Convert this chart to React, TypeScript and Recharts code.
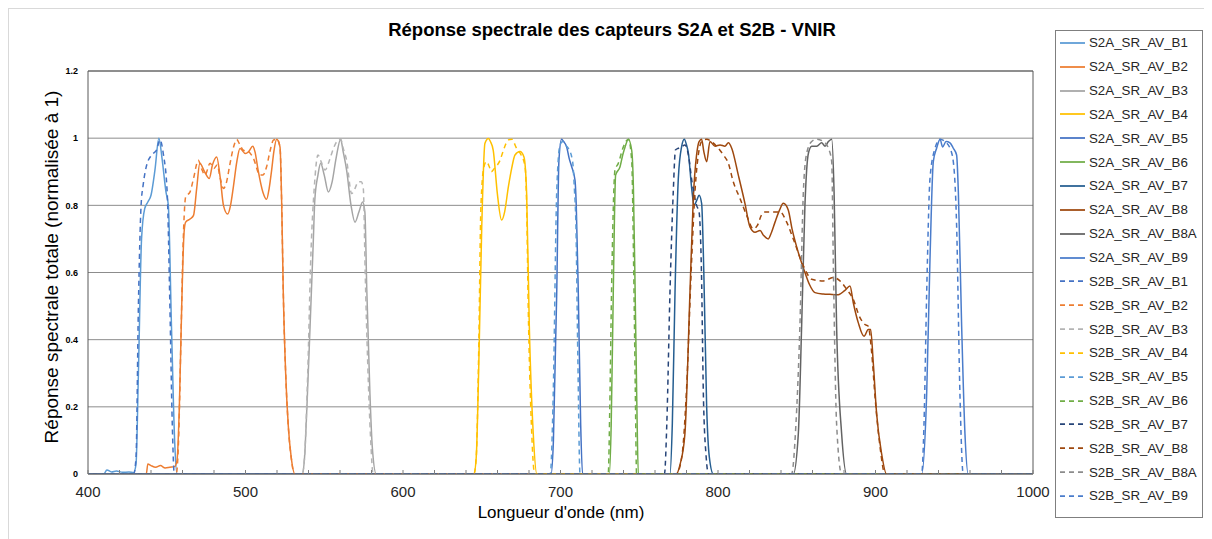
import React from 'react'
import { LineChart, Line, XAxis, YAxis, CartesianGrid, ReferenceLine } from 'recharts'

type Pt = [number, number]

// wavelength (nm), normalised response
const s2aB1: Pt[] = [[400,0],[410,0],[412,0.012],[415,0.006],[418,0.009],[422,0.005],[426,0.006],[429,0.004],[430.5,0.03],[432,0.3],[434,0.7],[436,0.79],[438,0.81],[440,0.83],[442.5,0.905],[445,1.0],[447,0.94],[449.5,0.84],[451,0.8],[453,0.44],[455,0.1],[456.5,0],[1000,0]]
const s2aB2: Pt[] = [[400,0],[437,0],[438,0.03],[440,0.025],[443,0.02],[446,0.025],[449,0.018],[452,0.02],[455,0.022],[456.5,0.04],[458,0.2],[459.5,0.5],[461,0.72],[462,0.75],[465,0.76],[467,0.77],[469,0.85],[471,0.925],[474,0.9],[477,0.88],[479,0.92],[481.7,0.944],[484,0.88],[486,0.8],[488.7,0.774],[490.5,0.8],[492.3,0.855],[494.5,0.93],[496.5,0.969],[500,0.954],[502,0.96],[504.6,0.976],[506,0.96],[508,0.905],[511,0.84],[513.4,0.818],[515,0.85],[516.6,0.905],[518,0.96],[519.8,0.997],[521.9,0.974],[523,0.8],[524,0.538],[525.5,0.3],[527.2,0.141],[529,0.05],[531.4,0],[1000,0]]
const s2aB3: Pt[] = [[400,0],[536,0],[537.5,0.05],[539,0.2],[541,0.44],[543,0.687],[544,0.815],[546,0.89],[547.7,0.925],[550,0.89],[552.6,0.84],[555,0.87],[557.5,0.94],[560.4,0.997],[562,0.96],[564.2,0.905],[567,0.8],[569.5,0.75],[572,0.78],[574.4,0.81],[575.8,0.78],[577,0.55],[579,0.24],[580.5,0.08],[583,0],[1000,0]]
const s2aB4: Pt[] = [[400,0],[645,0],[646.5,0.05],[648,0.3],[650,0.736],[652,0.984],[654.2,0.999],[655.5,0.99],[657.3,0.964],[659.9,0.835],[662.6,0.756],[664.5,0.78],[666.9,0.855],[669,0.91],[671.1,0.95],[674.3,0.96],[676.8,0.944],[678.5,0.835],[680.2,0.44],[682.7,0.12],[685,0],[1000,0]]
const s2aB5: Pt[] = [[400,0],[694,0],[695.5,0.1],[697.6,0.538],[699,0.934],[700.7,0.997],[702,0.99],[703.9,0.974],[705.5,0.94],[707.1,0.915],[709.2,0.875],[710,0.8],[711.3,0.538],[712.8,0.15],[714,0],[1000,0]]
const s2aB6: Pt[] = [[400,0],[731,0],[732.2,0.15],[733.5,0.54],[735,0.89],[737.8,0.915],[739.5,0.95],[741,0.974],[743.1,0.997],[745.2,0.964],[746.3,0.85],[747.4,0.54],[748.5,0.2],[749.4,0],[1000,0]]
const s2aB7: Pt[] = [[400,0],[769.5,0],[771,0.15],[772.7,0.54],[774.8,0.88],[776.9,0.975],[778.6,0.997],[780,0.98],[781.2,0.955],[783.3,0.85],[784.8,0.8],[786.5,0.815],[788,0.83],[789.6,0.806],[791,0.6],[792.8,0.2],[794.5,0.05],[797,0],[1000,0]]
const s2aB8: Pt[] = [[400,0],[773.5,0],[776,0.03],[779,0.12],[782.2,0.54],[784.3,0.82],[786.4,0.95],[788,0.99],[789.6,0.997],[791,0.96],[792.8,0.93],[794.9,0.99],[798.1,0.976],[801.3,0.98],[804.4,0.976],[806.6,0.986],[808.7,0.97],[812.9,0.89],[817.1,0.806],[820.3,0.736],[823.5,0.72],[826.7,0.725],[829,0.71],[831.9,0.7],[834,0.72],[836.2,0.75],[839,0.785],[841.5,0.806],[844.6,0.786],[847,0.73],[849.9,0.677],[855.2,0.6],[858,0.565],[861.6,0.54],[866.9,0.536],[871,0.535],[876.4,0.534],[880.6,0.547],[883.8,0.56],[885.9,0.51],[889.1,0.45],[892.7,0.41],[895.4,0.43],[896.9,0.43],[898.6,0.33],[900.7,0.18],[903.9,0.06],[907,0],[1000,0]]
const s2aB8A: Pt[] = [[400,0],[847.8,0],[851,0.12],[853.1,0.44],[855.2,0.8],[857.4,0.955],[859.5,0.976],[862.7,0.976],[865.8,0.986],[868,0.976],[870.1,0.99],[872.2,0.997],[873.7,0.84],[875.3,0.44],[878.5,0.12],[881.7,0],[1000,0]]
const s2aB9: Pt[] = [[400,0],[929.3,0],[932.5,0.24],[934.6,0.64],[936.7,0.93],[938.8,0.97],[941,0.997],[942.6,0.974],[944.8,0.99],[947.3,0.986],[949.4,0.97],[951.5,0.95],[952.6,0.84],[954.7,0.44],[956.8,0.12],[958.9,0],[1000,0]]

const s2bB1: Pt[] = [[400,0],[429,0],[430.5,0.05],[432,0.5],[433.7,0.8],[435,0.86],[437,0.915],[440.4,0.95],[443.6,0.965],[445.7,0.995],[447.8,0.954],[450.3,0.836],[452,0.5],[453.5,0.15],[454.8,0],[1000,0]]
const s2bB2: Pt[] = [[400,0],[456,0],[457.5,0.1],[459,0.4],[460.5,0.7],[462,0.825],[464.8,0.84],[467,0.88],[470,0.934],[472,0.91],[474.3,0.89],[477.5,0.925],[480,0.91],[482,0.92],[484,0.88],[486,0.85],[488,0.87],[490,0.92],[492.5,0.975],[494.4,0.996],[496.5,0.98],[498.6,0.964],[501.8,0.96],[505,0.94],[509.2,0.89],[511,0.89],[513.4,0.915],[515.5,0.96],[517.7,0.994],[520,0.997],[521.9,0.974],[523,0.8],[524,0.54],[525.5,0.3],[527.2,0.14],[529,0.05],[531,0],[1000,0]]
const s2bB3: Pt[] = [[400,0],[536,0],[537.5,0.05],[539.5,0.3],[541.5,0.65],[543.7,0.855],[546,0.95],[548,0.93],[550.5,0.905],[553,0.93],[555.8,0.969],[558,0.99],[560.4,0.997],[562,0.97],[564.2,0.934],[567.4,0.835],[569.5,0.85],[571.6,0.87],[573.5,0.87],[574.8,0.85],[576,0.6],[577.6,0.33],[579.5,0.1],[581,0],[1000,0]]
const s2bB4: Pt[] = [[400,0],[645,0],[646.5,0.05],[648,0.35],[649.5,0.8],[651.4,0.915],[653,0.93],[654.8,0.915],[656,0.9],[658,0.91],[661.6,0.934],[663.5,0.96],[665.4,0.984],[667,0.995],[669,0.997],[672.2,0.969],[675,0.95],[677.5,0.915],[678.5,0.8],[679.5,0.5],[681.5,0.15],[683.6,0],[1000,0]]
const s2bB5: Pt[] = [[400,0],[693.5,0],[695.4,0.24],[697.6,0.84],[699.7,0.98],[701.4,0.99],[703,0.98],[705,0.97],[707.7,0.93],[708.8,0.85],[709.8,0.74],[711,0.35],[712.4,0],[1000,0]]
const s2bB6: Pt[] = [[400,0],[730.3,0],[731.3,0.2],[732.4,0.54],[734.6,0.905],[736.7,0.925],[739.9,0.974],[743.1,0.997],[745.2,0.934],[746.5,0.6],[747.5,0.25],[748.3,0],[1000,0]]
const s2bB7: Pt[] = [[400,0],[766,0],[767.5,0.15],[769.5,0.54],[771.6,0.84],[773,0.965],[774.8,0.97],[777,0.975],[779,0.98],[781.2,0.95],[783.5,0.87],[786.4,0.8],[788,0.78],[789.5,0.6],[790.7,0.24],[792.5,0.05],[794,0],[1000,0]]
const s2bB8: Pt[] = [[400,0],[773.5,0],[777,0.05],[780,0.25],[783.2,0.63],[785.5,0.85],[787.5,0.95],[789.6,0.99],[792.8,0.997],[795.9,0.99],[799.1,0.976],[803.4,0.95],[806.6,0.925],[809.7,0.87],[814,0.82],[818.2,0.77],[822.4,0.73],[825,0.74],[827.5,0.77],[829.8,0.78],[835.1,0.78],[839.4,0.78],[843.6,0.75],[847.8,0.7],[854.2,0.62],[859.5,0.58],[866.9,0.575],[873.2,0.585],[878.5,0.57],[881.7,0.55],[885.9,0.52],[889.7,0.47],[893.3,0.445],[895.4,0.44],[897.6,0.36],[899.7,0.23],[902.9,0.08],[906,0],[1000,0]]
const s2bB8A: Pt[] = [[400,0],[846.7,0],[849.5,0.15],[852,0.44],[854.2,0.84],[856.3,0.955],[859.5,0.99],[862.7,0.997],[866.9,0.99],[870.1,0.97],[872.2,0.93],[873.3,0.6],[875.3,0.15],[878.5,0],[1000,0]]
const s2bB9: Pt[] = [[400,0],[929.3,0],[930.8,0.15],[932.5,0.54],[934.6,0.88],[937.8,0.97],[941,0.997],[944.1,0.99],[947.3,0.97],[949.4,0.93],[951.5,0.74],[953.6,0.24],[955.7,0],[1000,0]]

const xTicks = [400,420,440,460,480,500,520,540,560,580,600,620,640,660,680,700,720,740,760,780,800,820,840,860,880,900,920,940,960,980,1000]
const yTicks = [0, 0.2, 0.4, 0.6, 0.8, 1, 1.2]

const series = [
  { name: 'S2A_SR_AV_B1', pts: s2aB1, color: '#5B9BD5', dash: false },
  { name: 'S2A_SR_AV_B2', pts: s2aB2, color: '#ED7D31', dash: false },
  { name: 'S2A_SR_AV_B3', pts: s2aB3, color: '#A5A5A5', dash: false },
  { name: 'S2A_SR_AV_B4', pts: s2aB4, color: '#FFC000', dash: false },
  { name: 'S2A_SR_AV_B5', pts: s2aB5, color: '#4472C4', dash: false },
  { name: 'S2A_SR_AV_B6', pts: s2aB6, color: '#70AD47', dash: false },
  { name: 'S2A_SR_AV_B7', pts: s2aB7, color: '#255E91', dash: false },
  { name: 'S2A_SR_AV_B8', pts: s2aB8, color: '#9E480E', dash: false },
  { name: 'S2A_SR_AV_B8A', pts: s2aB8A, color: '#636363', dash: false },
  { name: 'S2A_SR_AV_B9', pts: s2aB9, color: '#4A7CCB', dash: false },
  { name: 'S2B_SR_AV_B1', pts: s2bB1, color: '#4472C4', dash: true },
  { name: 'S2B_SR_AV_B2', pts: s2bB2, color: '#ED7D31', dash: true },
  { name: 'S2B_SR_AV_B3', pts: s2bB3, color: '#B4B4B4', dash: true },
  { name: 'S2B_SR_AV_B4', pts: s2bB4, color: '#FFC000', dash: true },
  { name: 'S2B_SR_AV_B5', pts: s2bB5, color: '#5B9BD5', dash: true },
  { name: 'S2B_SR_AV_B6', pts: s2bB6, color: '#70AD47', dash: true },
  { name: 'S2B_SR_AV_B7', pts: s2bB7, color: '#264478', dash: true },
  { name: 'S2B_SR_AV_B8', pts: s2bB8, color: '#9E480E', dash: true },
  { name: 'S2B_SR_AV_B8A', pts: s2bB8A, color: '#8C8C8C', dash: true },
  { name: 'S2B_SR_AV_B9', pts: s2bB9, color: '#4A7CCB', dash: true },
]

const FONT = '"Liberation Sans", Arial, sans-serif'

const XTick = (props: any) => {
  const { x, y, payload } = props
  const v = payload.value
  return (
    <g>
      <line x1={x} x2={x} y1={y} y2={y - 4} stroke="#7f7f7f" />
      {v % 100 === 0 && (
        <text x={x} y={y + 23} textAnchor="middle" fontSize={15} fill="#262626" fontFamily={FONT}>
          {v}
        </text>
      )}
    </g>
  )
}

function SeriesLegend() {
  return (
    <div
      style={{
        position: 'absolute',
        left: 1046,
        top: 21,
        width: 148,
        height: 488,
        boxSizing: 'border-box',
        border: '1px solid #7f7f7f',
        fontFamily: FONT,
        fontSize: 13.3,
        color: '#262626',
        background: '#fff',
      }}
    >
      {series.map((s) => (
        <div key={s.name} style={{ height: 23.85, display: 'flex', alignItems: 'center' }}>
          <svg width={33} height={10} style={{ flex: 'none' }}>
            <line
              x1={4}
              x2={29}
              y1={5}
              y2={5}
              stroke={s.color}
              strokeWidth={1.75}
              strokeDasharray={s.dash ? '5 4' : undefined}
            />
          </svg>
          <span style={{ whiteSpace: 'nowrap' }}>{s.name}</span>
        </div>
      ))}
    </div>
  )
}

export default function App() {
  return (
    <div
      style={{
        position: 'relative',
        width: 1204,
        height: 531,
        boxSizing: 'border-box',
        borderTop: '1px solid #d9d9d9',
        borderLeft: '1px solid #d9d9d9',
        fontFamily: FONT,
        background: '#fff',
      }}
    >
      <div
        style={{
          position: 'absolute',
          left: 0,
          top: 10,
          width: 1206,
          textAlign: 'center',
          fontSize: 18.5,
          fontWeight: 'bold',
          lineHeight: '22px',
          color: '#000',
        }}
      >
        Réponse spectrale des capteurs S2A et S2B - VNIR
      </div>
      <LineChart width={1203} height={530} margin={{ top: 62, right: 179, bottom: 35, left: 0 }}>
        <CartesianGrid horizontal vertical={false} stroke="#8c8c8c" />
        <XAxis
          type="number"
          dataKey="wl"
          domain={[400, 1000]}
          ticks={xTicks}
          interval={0}
          tickSize={0}
          tickMargin={0}
          tickLine={false}
          height={30}
          stroke="#595959"
          tick={<XTick />}
          allowDataOverflow
        />
        <YAxis
          type="number"
          domain={[0, 1.2]}
          ticks={yTicks}
          interval={0}
          width={79}
          tickLine={false}
          tickMargin={4}
          stroke="#595959"
          tick={{ fontSize: 9, fontWeight: 'bold', fill: '#000', fontFamily: FONT }}
          allowDataOverflow
        />
        <ReferenceLine y={1.2} stroke="#595959" />
        <ReferenceLine x={1000} stroke="#595959" />
        {series.map((s) => (
          <Line
            key={s.name}
            name={s.name}
            data={s.pts.map(([wl, v]) => ({ wl, v }))}
            dataKey="v"
            type="monotone"
            stroke={s.color}
            strokeWidth={1.5}
            strokeDasharray={s.dash ? '5 4' : undefined}
            dot={false}
            activeDot={false}
            isAnimationActive={false}
          />
        ))}
      </LineChart>
      <div
        style={{
          position: 'absolute',
          left: 43,
          top: 258,
          transform: 'translate(-50%, -50%) rotate(-90deg)',
          whiteSpace: 'nowrap',
          fontSize: 19,
          color: '#000',
        }}
      >
        Réponse spectrale totale (normalisée à 1)
      </div>
      <div
        style={{
          position: 'absolute',
          left: 552,
          top: 504,
          transform: 'translate(-50%, -50%)',
          whiteSpace: 'nowrap',
          fontSize: 17,
          color: '#000',
        }}
      >
        Longueur d'onde (nm)
      </div>
      <SeriesLegend />
    </div>
  )
}
